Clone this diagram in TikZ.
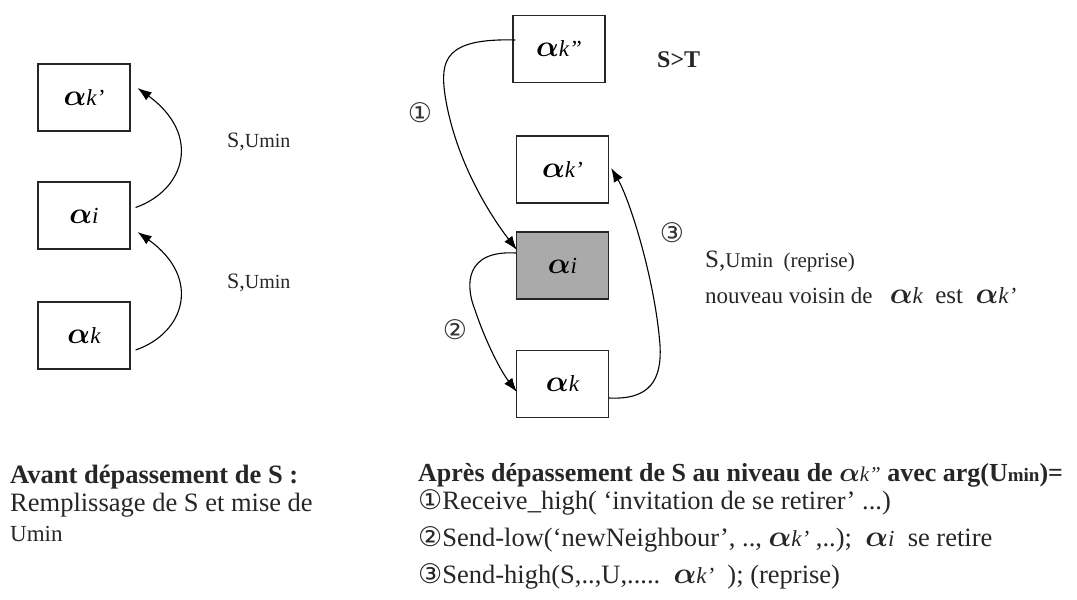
\RequirePackage{fix-cm}
\documentclass[tikz,border=0pt]{standalone}
\usepackage{fontspec}
\usepackage{bm}
\setmainfont{Liberation Serif}
\newfontfamily\circfont{DejaVu Sans}
\usetikzlibrary{arrows.meta}
\newcommand\alb[1]{{\fontsize{30}{30}\selectfont$\bm{\alpha}$}{\fontsize{23}{23}\selectfont\itshape #1}}
\newcommand\als[1]{{\fontsize{30}{30}\selectfont$\bm{\alpha}$}{\fontsize{23}{23}\selectfont\itshape #1}}
\newcommand\altt[1]{{\fontsize{27}{27}\selectfont$\bm{\alpha}$}{\fontsize{21}{21}\selectfont\mdseries\itshape #1}}
\newcommand\cn[1]{{\circfont\fontsize{27}{27}\selectfont #1}}
\begin{document}
\begin{tikzpicture}[x=1pt,y=-1pt,
  bx/.style={draw=black!85, line width=1.2pt, minimum width=92pt, minimum height=67pt, inner sep=0pt},
  arr/.style={line width=1.1pt, -{Latex[length=14pt,width=10pt]}},
  lbl/.style={anchor=base west, inner sep=0pt, text=black!85},
  num/.style={inner sep=0pt, text=black!80}]
\useasboundingbox (0,0) rectangle (1077,600);
% left boxes
\node[bx] (L1) at (84,97.5) {\alb{k'}};
\node[bx] (L2) at (84,215.5) {\alb{i}};
\node[bx] (L3) at (84,335.5) {\alb{k}};
\draw[arr] ([shift={(5,-8)}]L2.east) .. controls (185,190) and (202,135) .. ([shift={(7,-9.5)}]L1.east);
\draw[arr] ([shift={(5,14.5)}]L3.east) .. controls (185,333) and (202,278) .. ([shift={(7,16.5)}]L2.east);
\node[lbl] (sl1) at (227,147) {{\fontsize{22}{22}\selectfont S,}{\fontsize{20}{20}\selectfont Umin}};
\node[lbl] (sl2) at (227,288) {{\fontsize{22}{22}\selectfont S,}{\fontsize{20}{20}\selectfont Umin}};
% right boxes
\node[bx] (R1) at (559,49) {\alb{k''}};
\node[bx] (R2) at (562.5,169.5) {\alb{k'}};
\node[bx, fill={rgb,255:red,170;green,170;blue,170}] (R3) at (562.5,265.5) {\alb{i}};
\node[bx] (R4) at (562.5,384) {\alb{k}};
\draw[arr] ([shift={(3,-9)}]R1.west) .. controls (445,38) and (440,60) .. (445,95) .. controls (455,160) and (490,215) .. ([shift={(1,-15.5)}]R3.west);
\draw[arr] ([shift={(0,-12.5)}]R3.west) .. controls (465,250) and (465,285) .. (475,310) .. controls (485,340) and (500,370) .. ([shift={(1,8)}]R4.west);
\draw[arr] ([shift={(0,14)}]R4.east) .. controls (650,400) and (662,380) .. (660,345) .. controls (655,280) and (630,200) .. ([shift={(2,-1.5)}]R2.east);
\node[num] (n1) at (420,113) {\cn{①}};
\node[num] (n2) at (455,330) {\cn{②}};
\node[num] (n3) at (672,233) {\cn{③}};
\node[lbl] (st) at (657,67) {\fontsize{24}{24}\selectfont\bfseries S>T};
\node[lbl] (rep) at (705,267) {{\fontsize{25}{25}\selectfont S,}{\fontsize{21}{21}\selectfont Umin\ \ (reprise)}};
\node[lbl] (nv) at (705,303) {{\fontsize{23}{23}\selectfont nouveau voisin de\ \ \ }\als{k}{\fontsize{25}{25}\selectfont\ \ est\ \ }\als{k'}};
% bottom left text
\node[lbl] (av1) at (10,483) {\fontsize{26.5}{26.5}\selectfont\bfseries Avant dépassement de S :};
\node[lbl] (av2) at (10,511) {\fontsize{26.5}{26.5}\selectfont Remplissage de S et mise de};
\node[lbl] (av3) at (10,541) {\fontsize{23}{23}\selectfont Umin};
% bottom right text
\node[lbl] (ap1) at (418,481) {\fontsize{26}{26}\selectfont\bfseries Après dépassement de S au niveau de \altt{k''}\ avec arg(U{\fontsize{19}{19}\selectfont min})=};
\node[lbl] (ap2) at (418,509) {\cn{①}\fontsize{26.5}{26.5}\selectfont Receive\_high( ‘invitation de se retirer’ ...)};
\node[lbl] (ap3) at (418,546) {\cn{②}\fontsize{26.5}{26.5}\selectfont Send-low(‘newNeighbour’, .., \als{k'} ,..);\ \ \als{i}\ \ se retire};
\node[lbl] (ap4) at (418,583) {\cn{③}\fontsize{26.5}{26.5}\selectfont Send-high(S,..,U,.....\ \ \als{k'}\ \ ); (reprise)};
\end{tikzpicture}
\end{document}
